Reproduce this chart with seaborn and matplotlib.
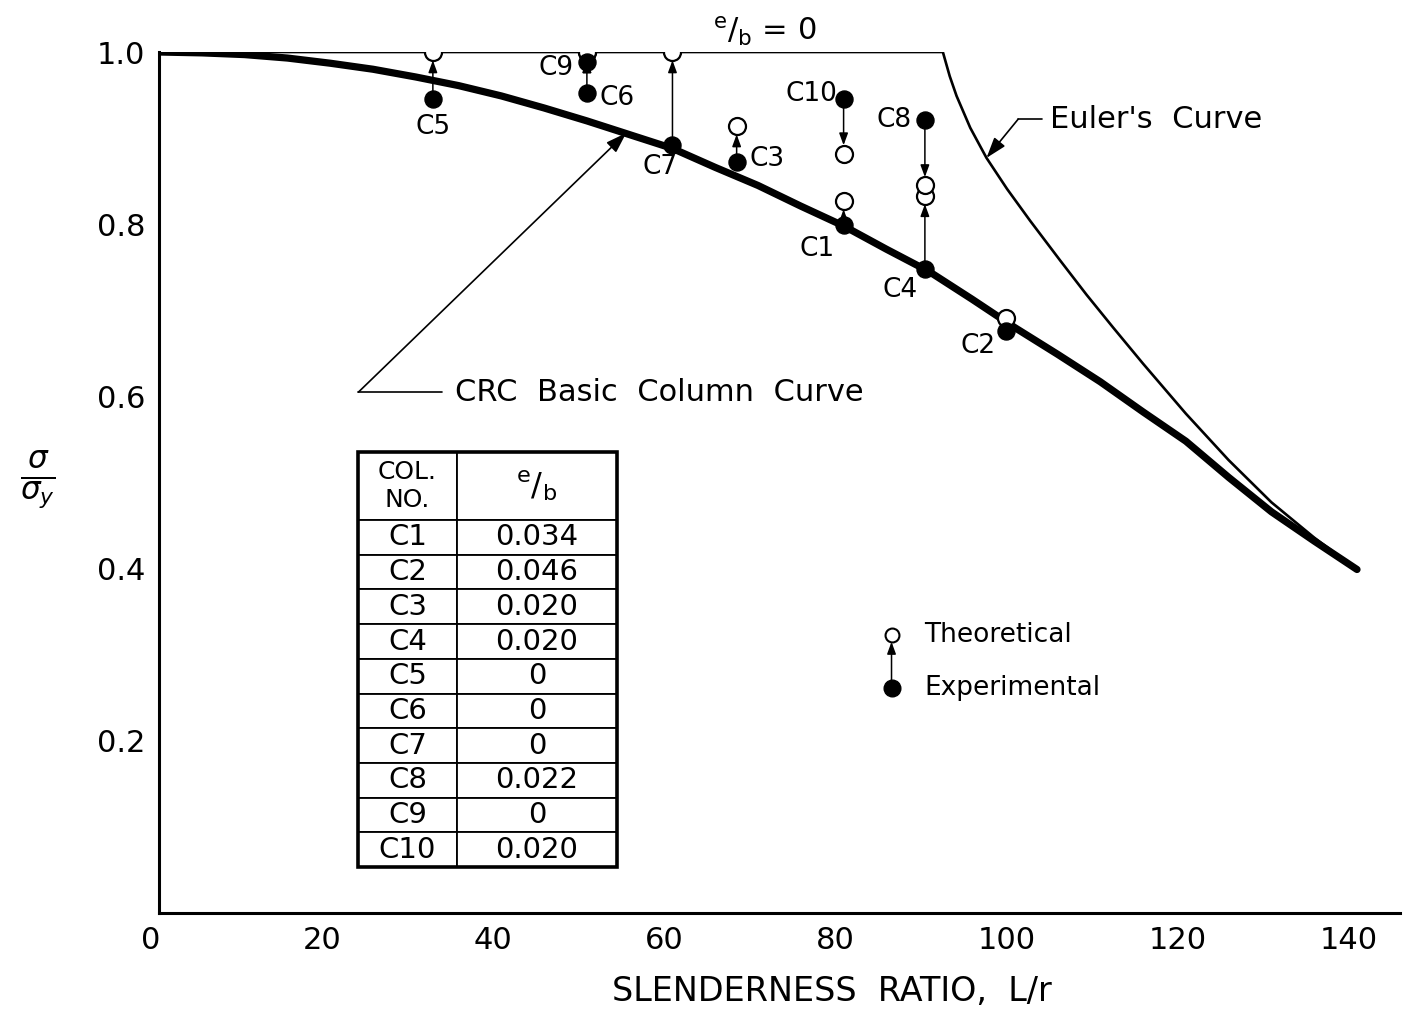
import matplotlib
matplotlib.use("Agg")
import matplotlib.pyplot as plt
import matplotlib.transforms as mtransforms
import pandas as pd
import seaborn as sns
from matplotlib.patches import Rectangle

# ---- data -------------------------------------------------------------
# CRC basic column curve (sigma / sigma_y against L/r)
crc_lr = [0, 5, 10, 15, 20, 25, 30, 35, 40, 45, 50, 55, 60, 65, 70, 75, 80,
          85, 90, 95, 100, 105, 110, 115, 120, 125, 130, 135, 140]
crc_ratio = [1.000, 0.999, 0.997, 0.993, 0.987, 0.980, 0.971, 0.961, 0.949,
             0.935, 0.920, 0.904, 0.888, 0.866, 0.845, 0.821, 0.798, 0.771,
             0.745, 0.713, 0.680, 0.649, 0.617, 0.582, 0.548, 0.506, 0.466,
             0.432, 0.399]

# e/b = 0 plateau followed by Euler's curve
euler_lr = [0, 91.6, 92.4, 93.2, 94.8, 96.7, 99.1, 101.8, 105.3, 108.4,
            111.5, 115, 120, 125, 130, 135, 140]
euler_ratio = [1.000, 1.000, 0.972, 0.949, 0.912, 0.877, 0.841, 0.804, 0.758,
               0.718, 0.680, 0.638, 0.580, 0.526, 0.477, 0.436, 0.399]

# test columns
col_no = ["C1", "C2", "C3", "C4", "C5", "C6", "C7", "C8", "C9", "C10"]
col_lr = [80, 99, 67.5, 89.5, 32, 50, 60, 89.5, 50, 80]
theoretical = [0.827, 0.691, 0.914, 0.833, 1.000, 1.000, 1.000, 0.845, 1.000, 0.882]
experimental = [0.799, 0.676, 0.872, 0.748, 0.945, 0.952, 0.892, 0.921, 0.988, 0.945]
eccentricity = ["0.034", "0.046", "0.020", "0.020", "0", "0", "0", "0.022", "0", "0.020"]

x_ticks = [0, 20, 40, 60, 80, 100, 120, 140]
y_ticks = [0.2, 0.4, 0.6, 0.8, 1.0]

# label offsets (points) of each column tag from its experimental point
tag_offsets = {"C1": (-19, -17), "C2": (-20, -11), "C3": (22, 2), "C4": (-18, -15),
               "C5": (0, -20), "C6": (22, -3), "C7": (-9, -16), "C8": (-22, 0),
               "C9": (-22, -4), "C10": (-23, 4)}

# ---- style ------------------------------------------------------------
sns.set_style("white")
plt.rcParams["font.family"] = ["DejaVu Sans"]
plt.rcParams["mathtext.fontset"] = "dejavusans"
plt.rcParams["text.color"] = "black"
plt.rcParams["axes.labelcolor"] = "black"

fig = plt.figure(figsize=(14.05, 10.10), dpi=100)
ax = fig.add_axes([0.1132, 0.0960, 0.8831, 0.8525])

cols = pd.DataFrame({"col": col_no, "lr": col_lr, "theo": theoretical, "exp": experimental})

# curves
sns.lineplot(x=euler_lr, y=euler_ratio, ax=ax, color="black", lw=1.9,
             sort=False, estimator=None, zorder=2)
sns.lineplot(x=crc_lr, y=crc_ratio, ax=ax, color="black", lw=5.2,
             sort=False, estimator=None, zorder=3, solid_capstyle="round")

# arrows from experimental to theoretical values
for _, r in cols.iterrows():
    ax.annotate("", xy=(r.lr, r.theo), xytext=(r.lr, r.exp),
                arrowprops=dict(arrowstyle="-|>,head_length=0.6,head_width=0.22",
                                mutation_scale=12, color="black", lw=1.1,
                                shrinkA=0, shrinkB=6),
                zorder=4)

sns.scatterplot(data=cols, x="lr", y="theo", ax=ax, marker="o", s=150,
                facecolor="white", edgecolor="black", linewidth=1.6, zorder=5)
sns.scatterplot(data=cols, x="lr", y="exp", ax=ax, marker="o", s=150,
                color="black", edgecolor="black", linewidth=1.0, zorder=6)

for _, r in cols.iterrows():
    ax.annotate(r.col, xy=(r.lr, r.exp), xytext=tag_offsets[r.col],
                textcoords="offset points", ha="center", va="center",
                fontsize=19, zorder=7)

# ---- annotations ------------------------------------------------------
ax.text(70.8, 1.024, r"$^{\mathrm{e}}/_{\mathrm{b}}$ = 0", fontsize=22,
        ha="center", va="center", clip_on=False)

ax.plot([23.3, 33.1], [0.605, 0.605], color="black", lw=1.2)
ax.annotate("", xy=(54.6, 0.906), xytext=(23.3, 0.605),
            arrowprops=dict(arrowstyle="-|>,head_length=0.9,head_width=0.3",
                            mutation_scale=14, color="black", lw=1.2,
                            shrinkA=0, shrinkB=0))
ax.text(34.6, 0.605, "CRC  Basic  Column  Curve", fontsize=22, va="center")

ax.plot([100.4, 103.2], [0.922, 0.922], color="black", lw=1.2)
ax.annotate("", xy=(96.7, 0.877), xytext=(100.4, 0.922),
            arrowprops=dict(arrowstyle="-|>,head_length=0.9,head_width=0.3",
                            mutation_scale=14, color="black", lw=1.2,
                            shrinkA=0, shrinkB=0))
ax.text(104.1, 0.922, "Euler's  Curve", fontsize=22, va="center")

# legend
ax.plot([85.6], [0.323], marker="o", ms=10, mfc="white", mec="black", mew=1.5)
ax.plot([85.6], [0.261], marker="o", ms=12, mfc="black", mec="black")
ax.annotate("", xy=(85.6, 0.323), xytext=(85.6, 0.261),
            arrowprops=dict(arrowstyle="-|>,head_length=0.6,head_width=0.22",
                            mutation_scale=12, color="black", lw=1.1,
                            shrinkA=0, shrinkB=5))
ax.text(89.4, 0.323, "Theoretical", fontsize=19, va="center")
ax.text(89.4, 0.261, "Experimental", fontsize=19, va="center")

# eccentricity table
tbl = ax.table(cellText=[[c, e] for c, e in zip(col_no, eccentricity)],
               colLabels=["COL.\nNO.", r"$^{\mathrm{e}}/_{\mathrm{b}}$"],
               cellLoc="center", colWidths=[99, 160],
               bbox=[0.1604, 0.0534, 0.2087, 0.482], zorder=8)
tbl.auto_set_font_size(False)
tbl.set_fontsize(21)
for (row, c), cell in tbl.get_celld().items():
    cell.set_linewidth(1.3)
    cell.set_edgecolor("black")
    cell.set_facecolor("white")
    if row == 0:
        cell.set_height(cell.get_height() * 1.96)
        cell.get_text().set_fontsize(18 if c == 0 else 23)
ax.add_patch(Rectangle((0.1604, 0.0534), 0.2087, 0.482, transform=ax.transAxes,
                       fill=False, lw=2.6, edgecolor="black", zorder=9))

# ---- axes -------------------------------------------------------------
ax.set_xlim(0, 145)
ax.set_ylim(0, 1.0)
ax.set_xticks(x_ticks)
ax.set_xticklabels([str(t) for t in x_ticks])
ax.set_yticks(y_ticks)
ax.set_yticklabels([f"{t:.1f}" for t in y_ticks])
ax.tick_params(axis="y", direction="in", length=11, width=1.5, pad=10,
               labelsize=22, colors="black")
ax.tick_params(axis="x", direction="in", length=9, width=1.5, pad=9,
               labelsize=22, colors="black")
shift = mtransforms.ScaledTranslation(-8 / 100, 0, fig.dpi_scale_trans)
for lab in ax.get_xticklabels():
    lab.set_transform(lab.get_transform() + shift)
for side in ("top", "right"):
    ax.spines[side].set_visible(False)
for side in ("left", "bottom"):
    ax.spines[side].set_linewidth(2.2)
    ax.spines[side].set_color("black")

ax.set_xlabel("SLENDERNESS  RATIO,  L/r", fontsize=24)
ax.xaxis.set_label_coords(0.5424, -0.072)
ax.set_ylabel(r"$\frac{\sigma}{\sigma_y}$", fontsize=32, rotation=0,
              va="center", ha="center")
ax.yaxis.set_label_coords(-0.0975, 0.503)

fig.savefig("out.png", dpi=100)
